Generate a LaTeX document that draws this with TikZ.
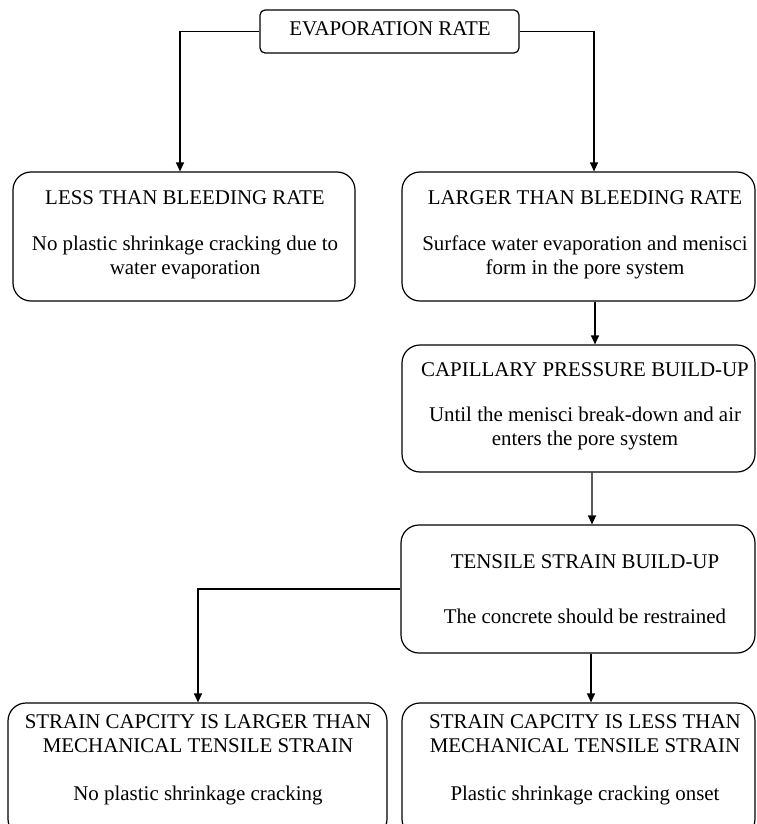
\documentclass[tikz,border=0pt]{standalone}
\usepackage{fontspec}
\setmainfont{Liberation Serif}
\usetikzlibrary{arrows.meta}
\begin{document}
\begin{tikzpicture}[x=1bp,y=-1bp,
  box/.style={draw, rounded corners=18bp, line width=1.2bp, inner sep=0pt},
  txt/.style={align=center, inner sep=0pt, anchor=north, font=\fontsize{21}{24}\selectfont},
  arr/.style={line width=1.2bp, -{Triangle[width=8bp,length=9bp]}}]
\useasboundingbox (0,0) rectangle (757,824);
\clip (0,0) rectangle (757,824);
% boxes
\node[box, rounded corners=5bp, minimum width=259bp, minimum height=43bp] (top) at (389.5,31.5) {};
\node[box, minimum width=342bp, minimum height=129bp] (less) at (184,236.5) {};
\node[box, minimum width=353bp, minimum height=129bp] (larger) at (578.5,236.5) {};
\node[box, minimum width=353bp, minimum height=127bp] (cap) at (578.5,408.5) {};
\node[box, minimum width=354bp, minimum height=128bp] (tens) at (578,589) {};
\node[box, minimum width=379bp, minimum height=134bp] (bl) at (197.5,770) {};
\node[box, minimum width=353bp, minimum height=134bp] (br) at (578.5,770) {};
% texts
\node[txt] (ttop) at (390,21.1) {EVAPORATION RATE};
\node[txt] (tless) at (185,190.9) {LESS THAN BLEEDING RATE\\[22bp]No plastic shrinkage cracking due to\\water evaporation};
\node[txt] (tlarger) at (585,190.9) {LARGER THAN BLEEDING RATE\\[22bp]Surface water evaporation and menisci\\form in the pore system};
\node[txt] (tcap) at (585,362.4) {CAPILLARY PRESSURE BUILD-UP\\[21bp]Until the menisci break-down and air\\enters the pore system};
\node[txt] (ttens) at (585,554.9) {TENSILE STRAIN BUILD-UP\\[30.5bp]The concrete should be restrained};
\node[txt] (tbl) at (198,714.4) {STRAIN CAPCITY IS LARGER THAN\\MECHANICAL TENSILE STRAIN\\[24bp]No plastic shrinkage cracking};
\node[txt] (tbr) at (585,714.4) {STRAIN CAPCITY IS LESS THAN\\MECHANICAL TENSILE STRAIN\\[24bp]Plastic shrinkage cracking onset};
% connectors
\draw[arr] (top.west) -| ([xshift=-4bp]less.north);
\draw[arr] (top.east) -| ([xshift=15.5bp]larger.north);
\draw[arr] ([xshift=16.5bp]larger.south) -- ([xshift=16.5bp]cap.north);
\draw[arr] ([xshift=13.5bp]cap.south) -- ([xshift=14bp]tens.north);
\draw[arr] ([xshift=13bp]tens.south) -- ([xshift=12.5bp]br.north);
\draw[arr] (tens.west) -| ([xshift=0.5bp]bl.north);
\end{tikzpicture}
\end{document}
